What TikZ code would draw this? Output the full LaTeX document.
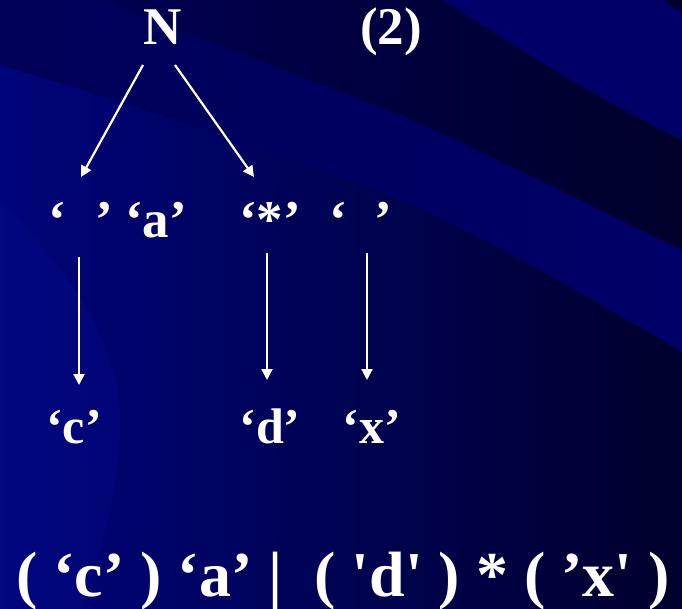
\documentclass[tikz,border=0pt]{standalone}
\usepackage{fontspec}
\newfontfamily\slidefont{Liberation Serif}
\usetikzlibrary{arrows.meta}

% background swoosh colours
\definecolor{baseL}{RGB}{0,4,122}
\definecolor{baseM}{RGB}{0,0,80}
\definecolor{baseR}{RGB}{0,0,44}
\definecolor{bandL}{RGB}{0,0,88}
\definecolor{bandR}{RGB}{0,0,104}
\definecolor{darkL}{RGB}{0,0,82}
\definecolor{darkR}{RGB}{0,0,42}
\definecolor{topband}{RGB}{0,0,104}
\definecolor{glow}{RGB}{6,10,138}

\tikzset{
  lbl/.style={text=white, inner sep=0pt, anchor=base,
    font=\slidefont\bfseries\fontsize{53}{60}\selectfont},
  lblmid/.style={lbl, font=\slidefont\bfseries\fontsize{50}{58}\selectfont},
  lblbig/.style={lbl, font=\slidefont\bfseries\fontsize{64}{72}\selectfont},
  arr/.style={draw=white, line width=2.2pt, -{Triangle[length=11pt,width=11pt]}}
}

\begin{document}
\begin{tikzpicture}[x=1pt,y=-1pt]
\useasboundingbox (0,0) rectangle (682,609);

% ---- background ----
\begin{scope}
\clip (0,0) rectangle (682,609);
\shade[left color=baseL, middle color=baseM, right color=baseR] (0,0) rectangle (682,609);
% faint lighter swoosh at the lower left
\fill[glow, opacity=0.35] (0,200) .. controls (70,270) and (120,345) .. (120,420)
  .. controls (120,500) and (95,570) .. (80,609) -- (0,609) -- cycle;
% broad band across the middle
\shade[left color=bandL, right color=bandR]
  (100,0) .. controls (200,40) and (300,75) .. (400,115)
  .. controls (470,145) and (560,190) .. (682,250) -- (682,352)
  .. controls (560,280) and (470,230) .. (400,200)
  .. controls (300,160) and (120,100) .. (0,65) -- (0,0) -- cycle;
% dark band above it
\shade[left color=darkL, right color=darkR]
  (100,0) -- (443,0) .. controls (520,50) and (600,100) .. (682,140) -- (682,250)
  .. controls (560,190) and (470,145) .. (400,115)
  .. controls (300,75) and (200,40) .. (100,0) -- cycle;
% band in the top right corner
\fill[topband] (443,0) -- (663,0) -- (682,12) -- (682,140)
  .. controls (600,100) and (520,50) .. (443,0) -- cycle;
\fill[darkR] (663,0) -- (682,0) -- (682,12) -- cycle;
\end{scope}

% ---- labels ----
\node[lbl] (N) at (163,45) {N};
\node[lbl] (two) at (391,45) {(2)};

\node[lbl] (blank1) at (81,238) {‘\hspace{30pt}’};
\node[lbl] (qa) at (156,238) {‘a’};
\node[lbl] (qstar) at (270,238) {‘*’};
\node[lbl] (blank2) at (361,238) {‘\hspace{28pt}’};

\node[lblmid] (qc) at (74,443) {‘c’};
\node[lblmid] (qd) at (270,443) {‘d’};
\node[lblmid] (qx) at (372,443) {‘x’};

\node[lblbig] (expr) at (343,596) {( ‘c’ ) ‘a’ |~ ( 'd' ) * ( ’x' )};

% ---- connector ends ----
\coordinate (N-left) at (143,65);
\coordinate (N-right) at (175,65);
\coordinate (blank1-in) at (81,177);
\coordinate (qstar-in) at (254,177);
\coordinate (blank1-out) at (79,257);
\coordinate (qc-in) at (79,385);
\coordinate (qstar-out) at (267,253);
\coordinate (qd-in) at (267,380);
\coordinate (blank2-out) at (367,253);
\coordinate (qx-in) at (367,380);

% ---- arrows ----
\draw[arr] (N-left) -- (blank1-in);
\draw[arr] (N-right) -- (qstar-in);
\draw[arr] (blank1-out) -- (qc-in);
\draw[arr] (qstar-out) -- (qd-in);
\draw[arr] (blank2-out) -- (qx-in);
\end{tikzpicture}
\end{document}
